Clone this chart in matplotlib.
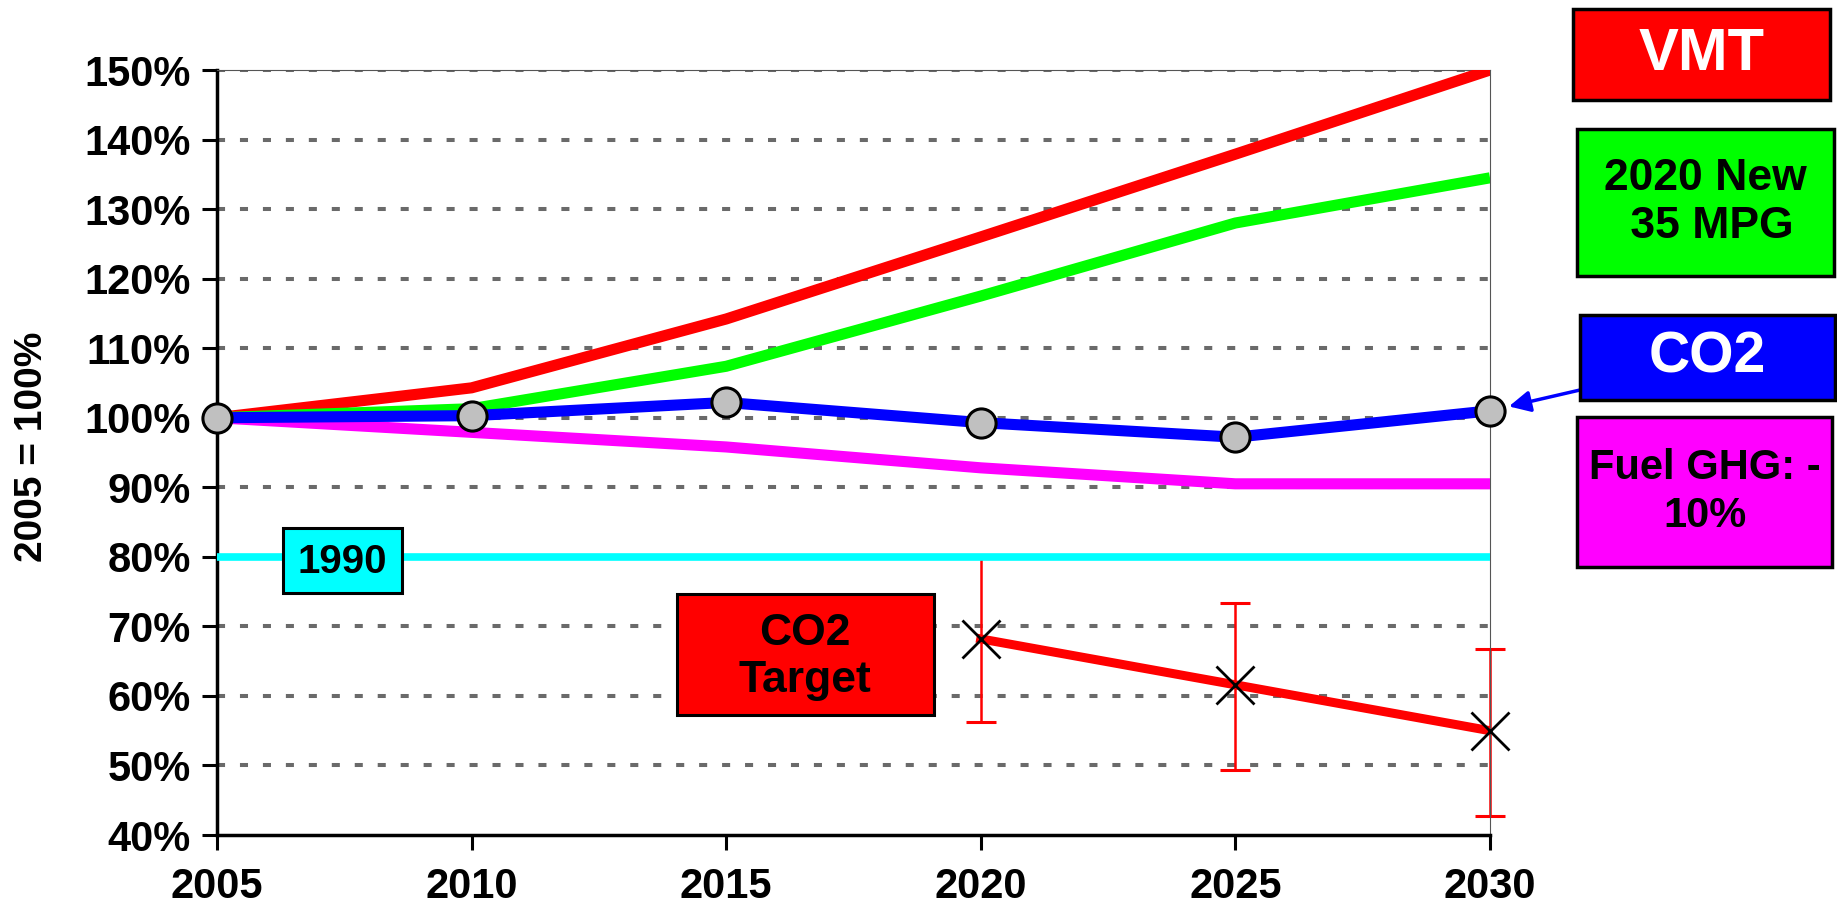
import matplotlib
matplotlib.use('Agg')
import matplotlib.pyplot as plt
from matplotlib.patches import Rectangle

plt.rcParams['font.family'] = ['Liberation Sans', 'DejaVu Sans']
plt.rcParams['font.weight'] = 'bold'

# Data (2005 = 100%)
years = [2005, 2010, 2015, 2020, 2025, 2030]
vmt = [100, 104.3, 114.2, 126.0, 137.9, 150.0]
mpg35 = [100, 101.3, 107.4, 117.5, 128.0, 134.5]
co2 = [100, 100.3, 102.2, 99.3, 97.2, 101.0]
fuel_ghg = [100, 97.9, 95.8, 92.8, 90.5, 90.5]
level_1990 = 80

target_years = [2020, 2025, 2030]
target = [68.2, 61.6, 55.0]
target_low = [56.2, 49.4, 42.8]
target_high = [80.0, 73.3, 66.8]

ytick_vals = list(range(40, 151, 10))
ytick_labels = [f'{v}%' for v in ytick_vals]

fig = plt.figure(figsize=(18.37, 9.14), dpi=100)
ax = fig.add_axes([0.1181, 0.0864, 0.693, 0.837])

# dotted grid
for v in ytick_vals[1:]:
    ax.axhline(v, color='#6a6a6a', lw=2.9, dashes=(2.0, 3.7), zorder=1)

ax.plot(years, vmt, color='#ff0000', lw=8, zorder=3, solid_capstyle='butt')
ax.plot(years, mpg35, color='#00ff00', lw=8, zorder=3, solid_capstyle='butt')
ax.plot(years, fuel_ghg, color='#ff00ff', lw=8, zorder=3, solid_capstyle='butt')
ax.plot(years, co2, color='#0000ff', lw=8, zorder=4, marker='o', ms=21,
        mfc='#c0c0c0', mec='black', mew=2.2, clip_on=False)

# CO2 target with ranges
lo = [t - l for t, l in zip(target, target_low)]
hi = [h - t for t, h in zip(target, target_high)]
ax.errorbar(target_years, target, yerr=[lo, hi], fmt='none', ecolor='#ff0000',
            elinewidth=1.8, capsize=11, capthick=2.2, zorder=2, clip_on=False)
ax.plot(target_years, target, color='#ff0000', lw=6.5, zorder=3)
ax.plot(target_years, target, ls='none', marker='x', ms=28, mec='black',
        mew=2, zorder=5, clip_on=False)

ax.axhline(level_1990, color='#00ffff', lw=5.5, zorder=3)

# in-plot label boxes
ax.add_patch(Rectangle((2006.3, 74.8), 2.33, 9.3, facecolor='#00ffff',
                       edgecolor='black', lw=2.2, zorder=6))
ax.text(2007.47, 79.3, '1990', ha='center', va='center', fontsize=29,
        fontweight='bold', zorder=7)
ax.add_patch(Rectangle((2014.03, 57.2), 5.05, 17.4, facecolor='#ff0000',
                       edgecolor='black', lw=2.2, zorder=6))
ax.text(2016.55, 65.6, 'CO2\nTarget', ha='center', va='center', fontsize=32,
        fontweight='bold', zorder=7, linespacing=1.2)

ax.set_xlim(2005, 2030)
ax.set_ylim(40, 150)
ax.set_xticks(years)
ax.set_xticklabels([str(y) for y in years], fontsize=30, fontweight='bold')
ax.set_yticks(ytick_vals)
ax.set_yticklabels(ytick_labels, fontsize=30, fontweight='bold')
ax.tick_params(axis='both', direction='out', length=11, width=2.2, pad=8)
ax.tick_params(axis='x', pad=12)
for s in ['left', 'bottom']:
    ax.spines[s].set_linewidth(2.5)
for s in ['top', 'right']:
    ax.spines[s].set_linewidth(0.8)
    ax.spines[s].set_color('#555555')

fig.text(0.0176, 0.511, '2005 = 100%', rotation=90, ha='center', va='center',
         fontsize=28, fontweight='bold')

# right-hand legend boxes (figure fraction)
W, H = 1837, 914
def box(x0, y0, x1, y1, fc, txt, tc, fs):
    fig.patches.append(Rectangle((x0 / W, 1 - y1 / H), (x1 - x0) / W, (y1 - y0) / H,
                                 transform=fig.transFigure, facecolor=fc,
                                 edgecolor='black', lw=2.5, zorder=5))
    fig.text((x0 + x1) / 2 / W, 1 - (y0 + y1) / 2 / H, txt, color=tc, fontsize=fs,
             fontweight='bold', ha='center', va='center', zorder=6, linespacing=1.25)

box(1573, 9, 1830, 100, '#ff0000', 'VMT', 'white', 43)
box(1577, 129, 1834, 276, '#00ff00', '2020 New\n 35 MPG', 'black', 32)
box(1580, 315, 1835, 400, '#0000ff', 'CO2', 'white', 41)
box(1577, 417, 1832, 567, '#ff00ff', 'Fuel GHG: -\n10%', 'black', 30)

ax.annotate('', xy=(2030, co2[-1]), xytext=(1580 / W, 1 - 390 / H),
            textcoords='figure fraction',
            arrowprops=dict(arrowstyle='-|>', color='#0000ff', lw=2.5,
                            shrinkA=0, shrinkB=14, mutation_scale=32),
            annotation_clip=False, zorder=6)

fig.savefig('out.png', dpi=100)
